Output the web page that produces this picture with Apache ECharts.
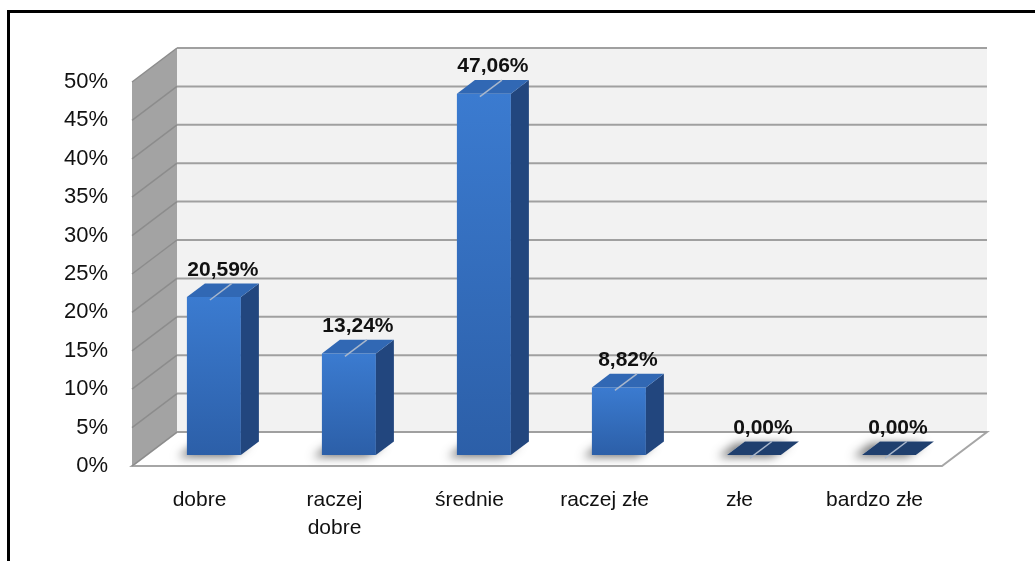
<!DOCTYPE html>
<html>
<head>
<meta charset="utf-8">
<script src="https://cdn.jsdelivr.net/npm/echarts@6/dist/echarts.min.js"></script>
<style>
  html, body { margin: 0; padding: 0; background: #fff; }
  #main { width: 1035px; height: 561px; }
</style>
</head>
<body>
<div id="main"></div>
<script>
// kategorie i wartości (%)
var categories = ['dobre', 'raczej\ndobre', 'średnie', 'raczej złe', 'złe', 'bardzo złe'];
var values = [20.59, 13.24, 47.06, 8.82, 0.00, 0.00];
var yTicks = [0, 5, 10, 15, 20, 25, 30, 35, 40, 45, 50];

// przesunięcie głębi 3D (px)
var DX = 45, DY = 34;
var FRONT = 0.32, BACK = 0.72;

var myChart = echarts.init(document.getElementById('main'));

function fmt(v) {
    return v.toFixed(2).replace('.', ',') + '%';
}

// ściany i podłoga
function renderWalls(params, api) {
    var c = params.coordSys;
    var x = c.x, y = c.y, w = c.width, h = c.height;
    return {
        type: 'group',
        children: [
            {
                type: 'rect',
                shape: { x: x + DX, y: y - DY, width: w, height: h },
                style: { fill: '#f2f2f2' }
            },
            {
                type: 'polygon',
                shape: { points: [[x, y], [x + DX, y - DY], [x + DX, y + h - DY], [x, y + h]] },
                style: { fill: '#a3a3a3' }
            },
            {
                type: 'polygon',
                shape: { points: [[x, y + h], [x + DX, y + h - DY], [x + w + DX, y + h - DY], [x + w, y + h]] },
                style: { fill: '#ffffff', stroke: '#a6a6a6', lineWidth: 2 }
            }
        ]
    };
}

// linie siatki
function renderGrid(params, api) {
    var c = params.coordSys;
    var py = api.coord([0, api.value(0)])[1];
    return {
        type: 'group',
        children: [
            {
                type: 'line',
                shape: { x1: c.x, y1: py, x2: c.x + DX, y2: py - DY },
                style: { stroke: '#8c8c8c', lineWidth: 1.5 }
            },
            {
                type: 'line',
                shape: { x1: c.x + DX, y1: py - DY, x2: c.x + c.width + DX, y2: py - DY },
                style: { stroke: '#a0a0a0', lineWidth: 2 }
            }
        ]
    };
}

// słupki 3D
function renderBar(params, api) {
    var i = api.value(0), v = api.value(1);
    var base = api.coord([i, 0]), top = api.coord([i, v]);
    var bw = api.size([1, 0])[0] * 0.4;
    var x0 = base[0] - bw / 2 + DX * FRONT, x1 = x0 + bw;
    var yb = base[1] - DY * FRONT, yt = top[1] - DY * FRONT;
    var ddx = DX * (BACK - FRONT), ddy = DY * (BACK - FRONT);
    var flat = yb - yt < 1;
    var children = [
        {
            type: 'polygon',
            shape: { points: [[x0, yb], [x0 + ddx, yb - ddy], [x1 + ddx, yb - ddy], [x1, yb]] },
            style: { fill: '#ffffff', shadowBlur: 10, shadowOffsetX: -9, shadowOffsetY: 2, shadowColor: 'rgba(0,0,0,0.55)' }
        }
    ];
    if (!flat) {
        children.push({
            type: 'rect',
            shape: { x: x0, y: yt, width: bw, height: yb - yt },
            style: {
                fill: new echarts.graphic.LinearGradient(0, 0, 0, 1, [
                    { offset: 0, color: '#3b7bd0' },
                    { offset: 1, color: '#2c5fa8' }
                ])
            }
        });
        children.push({
            type: 'polygon',
            shape: { points: [[x1, yt], [x1 + ddx, yt - ddy], [x1 + ddx, yb - ddy], [x1, yb]] },
            style: { fill: '#22467e' }
        });
    }
    children.push({
        type: 'polygon',
        shape: { points: [[x0, yt], [x0 + ddx, yt - ddy], [x1 + ddx, yt - ddy], [x1, yt]] },
        style: { fill: flat ? '#1f3f6e' : '#3168b4' }
    });
    var cx = (x0 + x1) / 2;
    children.push({
        type: 'line',
        shape: { x1: cx - 4, y1: yt + 3, x2: cx + ddx, y2: yt - ddy },
        style: { stroke: '#a9b7cc', lineWidth: 1.5 }
    });
    children.push({
        type: 'text',
        x: cx + ddx / 2,
        y: yt - ddy - 3,
        style: {
            text: fmt(v),
            fill: '#111',
            font: 'bold 21px "Liberation Sans", Arial, sans-serif',
            align: 'center',
            verticalAlign: 'bottom'
        }
    });
    return { type: 'group', children: children };
}

myChart.setOption({
    animation: false,
    graphic: [
        {
            type: 'rect',
            shape: { x: 8.5, y: 11.5, width: 1200, height: 800 },
            style: { fill: null, stroke: '#000', lineWidth: 3 },
            z: 100
        }
    ],
    grid: {
        left: 132,
        right: 93,
        top: 82,
        bottom: 95
    },
    xAxis: {
        type: 'category',
        data: categories,
        axisLine: { show: false },
        axisTick: { show: false },
        axisLabel: {
            interval: 0,
            margin: 20,
            color: '#111',
            fontSize: 21,
            lineHeight: 28,
            fontFamily: 'Liberation Sans'
        }
    },
    yAxis: {
        type: 'value',
        min: 0,
        max: 50,
        interval: 5,
        axisLine: { show: false },
        axisTick: { show: false },
        splitLine: { show: false },
        axisLabel: {
            formatter: '{value}%',
            margin: 24,
            color: '#111',
            fontSize: 22,
            fontFamily: 'Liberation Sans'
        }
    },
    series: [
        {
            type: 'custom',
            renderItem: renderWalls,
            data: [[0]],
            z: 1,
            silent: true
        },
        {
            type: 'custom',
            renderItem: renderGrid,
            data: yTicks.map(function (t) { return [t]; }),
            encode: { y: 0 },
            z: 2,
            silent: true
        },
        {
            type: 'custom',
            renderItem: renderBar,
            data: values.map(function (v, i) { return [i, v]; }),
            encode: { x: 0, y: 1 },
            z: 3
        }
    ]
});
</script>
</body>
</html>
